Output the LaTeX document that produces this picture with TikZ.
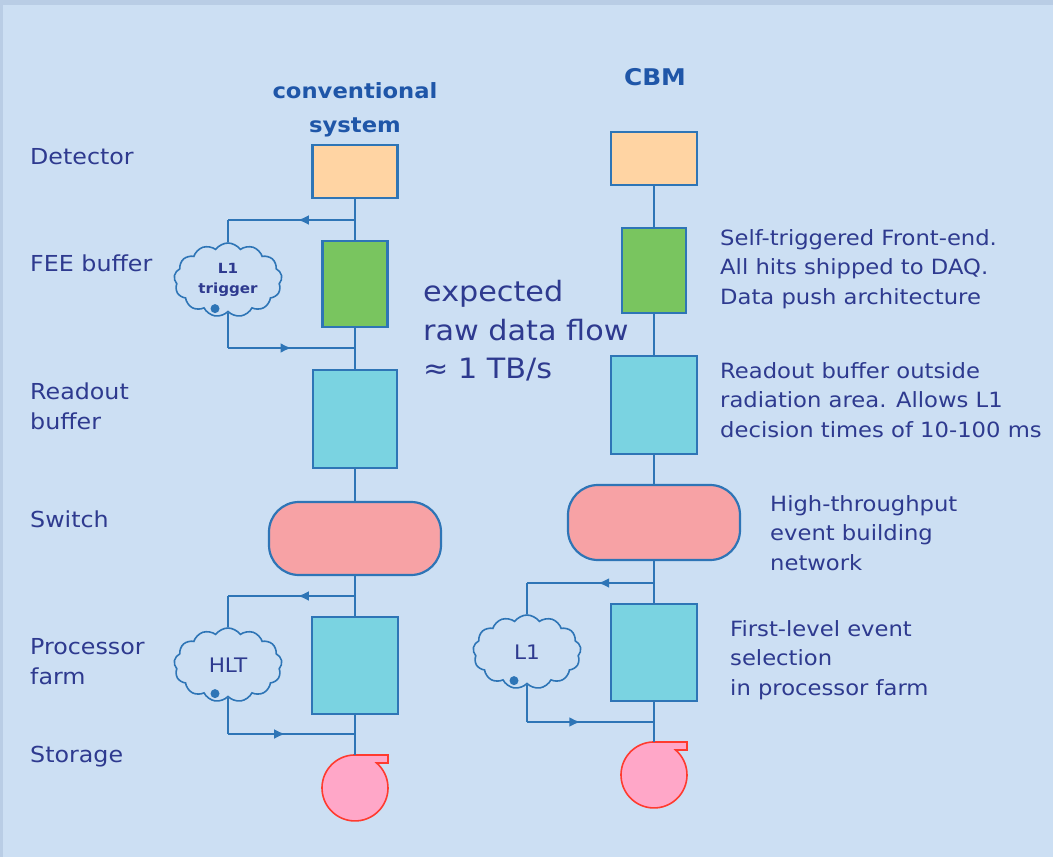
\documentclass[tikz,border=0pt]{standalone}
\usepackage{fontspec}
\setmainfont{DejaVu Sans}[FakeStretch=1.08]
\usetikzlibrary{shapes.symbols,decorations.markings,arrows.meta,calc}
\definecolor{bgout}{HTML}{B9CDE5}
\definecolor{bgin}{HTML}{CCDFF3}
\definecolor{lblue}{HTML}{2E75B6}
\definecolor{tblue}{HTML}{2E3A8F}
\definecolor{hblue}{HTML}{1F56A8}
\definecolor{orangef}{HTML}{FFD4A3}
\definecolor{greenf}{HTML}{79C55F}
\definecolor{cyanf}{HTML}{7AD3E1}
\definecolor{pinkf}{HTML}{F7A2A5}
\definecolor{storf}{HTML}{FFA7C8}
\definecolor{storl}{HTML}{FF3B2F}
\newcommand\storshape[1]{\draw[storl, fill=storf, line width=1.6pt] ($(#1)+(0,-33)$) -- ++(33,0) -- ++(0,8) -- ($(#1)+(21.6,-25)$) arc[start angle=49.1, end angle=-270, radius=33pt] -- cycle;}
\begin{document}
\begin{tikzpicture}[x=1pt,y=-1pt,
 boxst/.style={draw=lblue, line width=2.2pt, inner sep=0pt},
 conn/.style={draw=lblue, line width=2.2pt},
 midarrow/.style={postaction={decorate}, decoration={markings, mark=at position #1 with {\arrow{Latex[length=11pt,width=10pt]}}}},
 lbl/.style={text=tblue, font=\fontsize{22}{30}\selectfont, align=left, anchor=west, inner sep=0pt},
 rtxt/.style={text=tblue, font=\fontsize{21}{29.5}\selectfont, align=left, anchor=west, inner sep=0pt},
 ttl/.style={text=hblue, font=\bfseries\fontsize{21}{34}\selectfont, align=center, inner sep=0pt},
 cloudst/.style={cloud, draw=lblue, line width=1.6pt, cloud puffs=13, cloud puff arc=110, aspect=1.45, minimum width=108pt, minimum height=74pt, inner sep=0pt, text=tblue, align=center},
 stor/.style={circle, minimum size=66pt, inner sep=0pt, outer sep=0pt}
]
% background
\fill[bgout] (0,0) rectangle (1053,857);
\fill[bgin] (3,5) rectangle (1053,857);
\useasboundingbox (0,0) rectangle (1053,857);

% titles
\node[ttl] (t1) at (355,110) {conventional\\system};
\node[ttl, font=\bfseries\fontsize{23}{28}\selectfont] (t2) at (655,77) {CBM};

% left labels
\node[lbl] (l1) at (30,157) {Detector};
\node[lbl] (l2) at (30,263) {FEE buffer};
\node[lbl] (l3) at (30,406) {Readout\\buffer};
\node[lbl] (l4) at (30,519) {Switch};
\node[lbl] (l5) at (30,662) {Processor\\farm};
\node[lbl] (l6) at (30,757) {Storage};

% middle text
\node[text=tblue, font=\fontsize{28}{38.5}\selectfont, align=left, anchor=west, inner sep=0pt] (mid) at (423,331) {expected\\raw data flow\\≈ 1 TB/s};

% right texts
\node[rtxt] (r1) at (720,269) {Self-triggered Front-end.\\All hits shipped to DAQ.\\Data push architecture};
\node[rtxt] (r2) at (720,400) {Readout buffer outside\\radiation area. Allows L1\\decision times of 10-100 ms};
\node[rtxt] (r3) at (770,533) {High-throughput\\event building\\network};
\node[rtxt] (r4) at (730,660) {First-level event\\selection\\in processor farm};

% conventional column
\node[boxst, fill=orangef, minimum width=85pt, minimum height=53pt] (det1) at (355,171.5) {};
\node[boxst, fill=greenf, minimum width=65pt, minimum height=86pt] (fee1) at (355,284) {};
\node[boxst, fill=cyanf, minimum width=84pt, minimum height=98pt] (rob1) at (355,419) {};
\node[boxst, fill=pinkf, rounded corners=30pt, minimum width=172pt, minimum height=73pt] (sw1) at (355,538.5) {};
\node[boxst, fill=cyanf, minimum width=86pt, minimum height=97pt] (pf1) at (355,665.5) {};
\node[stor] (st1) at (355,788) {};
\storshape{st1}

% CBM column
\node[boxst, fill=orangef, minimum width=86pt, minimum height=53pt] (det2) at (654,158.5) {};
\node[boxst, fill=greenf, minimum width=64pt, minimum height=85pt] (fee2) at (654,270.5) {};
\node[boxst, fill=cyanf, minimum width=86pt, minimum height=98pt] (rob2) at (654,405) {};
\node[boxst, fill=pinkf, rounded corners=30pt, minimum width=172pt, minimum height=75pt] (sw2) at (654,522.5) {};
\node[boxst, fill=cyanf, minimum width=86pt, minimum height=97pt] (pf2) at (654,652.5) {};
\node[stor] (st2) at (654,775) {};
\storshape{st2}

% clouds
\node[cloudst, font=\bfseries\fontsize{14}{20}\selectfont] (cl1) at (228,280) {L1\\trigger};
\node[cloudst, font=\fontsize{20}{24}\selectfont] (cl2) at (228,665) {HLT};
\node[cloudst, font=\fontsize{20}{24}\selectfont] (cl3) at (527,652) {L1};
\foreach \c in {cl1,cl2,cl3}{\fill[lblue] ($(\c.south)+(-13,-4)$) circle (4.5pt);}

% junctions
\coordinate (j1) at (355,220);
\coordinate (j2) at (355,348);
\coordinate (j3) at (355,596);
\coordinate (j4) at (355,734);
\coordinate (j5) at (654,583);
\coordinate (j6) at (654,722);

% vertical connectors
\draw[conn] (det1.south) -- (fee1.north);
\draw[conn] (fee1.south) -- (rob1.north);
\draw[conn] (rob1.south) -- (sw1.north);
\draw[conn] (sw1.south) -- (pf1.north);
\draw[conn] (pf1.south) -- (st1.north);
\draw[conn] (det2.south) -- (fee2.north);
\draw[conn] (fee2.south) -- (rob2.north);
\draw[conn] (rob2.south) -- (sw2.north);
\draw[conn] (sw2.south) -- (pf2.north);
\draw[conn] (pf2.south) -- (st2.north);

% loops
\draw[conn, midarrow=0.45] (j1) -- (j1 -| cl1.north);
\draw[conn] (j1 -| cl1.north) -- (cl1.north);
\draw[conn] (cl1.south) -- (cl1.south |- j2);
\draw[conn, midarrow=0.5] (cl1.south |- j2) -- (j2);

\draw[conn, midarrow=0.45] (j3) -- (j3 -| cl2.north);
\draw[conn] (j3 -| cl2.north) -- (cl2.north);
\draw[conn] (cl2.south) -- (cl2.south |- j4);
\draw[conn, midarrow=0.45] (cl2.south |- j4) -- (j4);

\draw[conn, midarrow=0.44] (j5) -- (j5 -| cl3.north);
\draw[conn] (j5 -| cl3.north) -- (cl3.north);
\draw[conn] (cl3.south) -- (cl3.south |- j6);
\draw[conn, midarrow=0.42] (cl3.south |- j6) -- (j6);
\end{tikzpicture}
\end{document}
